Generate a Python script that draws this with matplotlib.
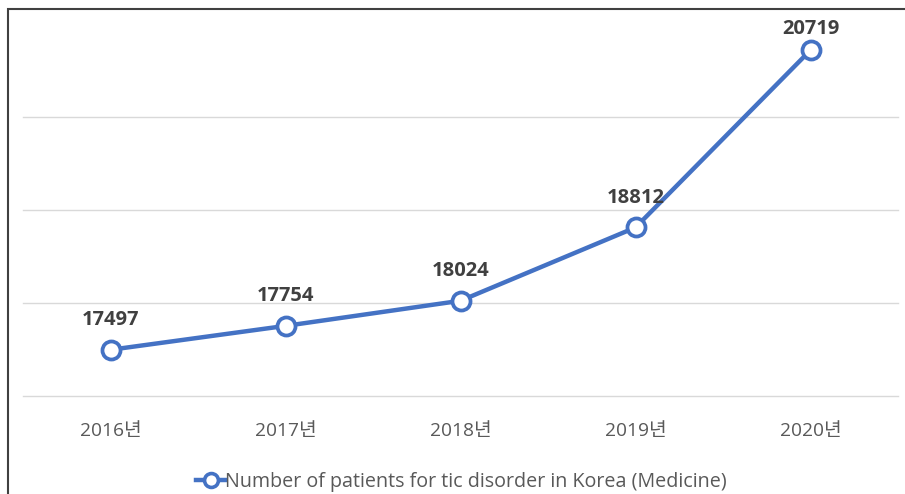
import matplotlib
matplotlib.use('Agg')
import matplotlib.pyplot as plt
from matplotlib.patches import Rectangle

plt.rcParams['font.family'] = ['Open Sans', 'Noto Sans CJK KR', 'DejaVu Sans']

years = ['2016년', '2017년', '2018년', '2019년', '2020년']
patients = [17497, 17754, 18024, 18812, 20719]
series_name = 'Number of patients for tic disorder in Korea (Medicine)'

line_color = '#4472C4'
text_color = '#595959'

fig = plt.figure(figsize=(9.05, 4.94), dpi=100)
ax = fig.add_axes([23 / 905, 98 / 494, 875 / 905, 372 / 494])

x = list(range(len(years)))
ax.plot(x, patients, color=line_color, linewidth=3.2, marker='o', markersize=13,
        markerfacecolor='white', markeredgecolor=line_color, markeredgewidth=2.7,
        label=series_name, zorder=3)

for xi, v in zip(x, patients):
    # top label sits closer to its point (pushed down by the chart edge)
    off = 8 if v == max(patients) else 14
    ax.annotate(str(v), (xi, v), xytext=(0, off), textcoords='offset points',
                ha='center', va='bottom', fontsize=14.5, fontweight='bold', color='#404040')

ax.set_xlim(-0.5, 4.5)
ax.set_ylim(17000, 21000)
ax.set_xticks(x)
ax.set_xticklabels(years, fontsize=13.8, color=text_color)
ax.set_yticks([17000, 18000, 19000, 20000])
ax.set_yticklabels([])
ax.tick_params(length=0, pad=19)
ax.grid(axis='y', color='#d9d9d9', linewidth=1)
for gl in ax.get_ygridlines():
    gl.set_clip_on(False)
for s in ax.spines.values():
    s.set_visible(False)

leg = fig.legend(loc='center', bbox_to_anchor=(0.51, 12 / 494), frameon=False,
                 fontsize=14.2, handlelength=1.5, handletextpad=0.0,
                 labelcolor=text_color)
for h in leg.legend_handles:
    h.set_markersize(10)
    h.set_markeredgewidth(2.6)

# outer chart frame (partially cropped in the screenshot)
fig.patches.append(Rectangle((8 / 905, -0.1), 1.2, (494 - 9) / 494 + 0.1,
                             transform=fig.transFigure, fill=False,
                             edgecolor='#404040', linewidth=1.5))

fig.savefig('out.png', dpi=100)
